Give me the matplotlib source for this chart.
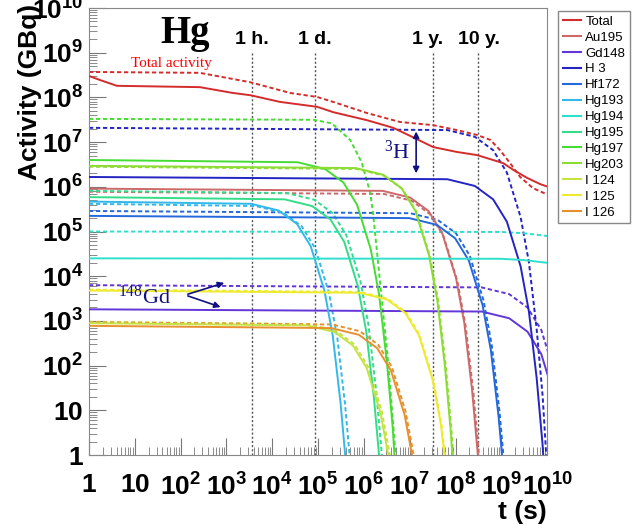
import numpy as np
import matplotlib
matplotlib.use('Agg')
import matplotlib.pyplot as plt
from matplotlib.lines import Line2D
from matplotlib.ticker import FixedLocator, FuncFormatter, NullFormatter

plt.rcParams['font.family'] = ['Liberation Sans', 'DejaVu Sans']
plt.rcParams['mathtext.fontset'] = 'custom'
plt.rcParams['mathtext.rm'] = 'Liberation Serif'
plt.rcParams['mathtext.bf'] = 'Liberation Sans:bold'
plt.rcParams['mathtext.sf'] = 'Liberation Sans'

# curves as (log10 t [s], log10 activity [GBq])
total_solid = [(0.0, 8.48), (0.24, 8.39), (0.61, 8.26), (2.42, 8.23), (3.14, 8.10), (3.52, 8.05),
               (4.17, 7.90), (4.98, 7.79), (5.33, 7.67), (6.07, 7.49), (6.64, 7.32), (7.07, 7.11),
               (7.51, 6.89), (8.03, 6.78), (8.47, 6.71), (8.82, 6.60), (9.04, 6.53), (9.26, 6.38),
               (9.56, 6.20), (9.85, 6.06), (10.02, 6.00)]
total_dash = [(0.0, 8.57), (2.42, 8.55), (3.52, 8.34), (4.39, 8.10), (4.98, 8.01), (5.33, 7.90),
              (6.07, 7.65), (6.79, 7.45), (7.51, 7.38), (8.03, 7.27), (8.47, 7.16), (8.76, 7.05),
              (8.97, 6.82), (9.19, 6.53), (9.41, 6.22), (9.69, 5.97), (10.02, 5.82)]

au195_solid = [(0, 5.96), (6.41, 5.91), (7.01, 5.76), (7.41, 5.46), (7.71, 4.96), (8.01, 3.96),
               (8.19, 2.96), (8.36, 1.46), (8.49, -0.04), (8.61, -2.04)]
au195_dash = [(0, 5.89), (6.44, 5.84), (7.04, 5.69), (7.44, 5.39), (7.74, 4.89), (8.04, 3.89),
              (8.22, 2.89), (8.39, 1.39), (8.52, -0.11), (8.64, -2.11)]

gd148_solid = [(0, 3.26), (8.57, 3.21), (9.17, 3.06), (9.57, 2.76), (9.87, 2.26), (10.17, 1.26)]
gd148_dash = [(0, 3.80), (8.57, 3.75), (9.17, 3.60), (9.57, 3.30), (9.87, 2.80), (10.17, 1.80)]

h3_solid = [(0, 6.22), (7.82, 6.17), (8.42, 6.02), (8.82, 5.72), (9.12, 5.22), (9.42, 4.22),
            (9.60, 3.22), (9.77, 1.72), (9.90, 0.22), (10.02, -1.78)]
h3_dash = [(0, 7.32), (7.82, 7.27), (8.42, 7.12), (8.82, 6.82), (9.12, 6.32), (9.42, 5.32),
           (9.60, 4.32), (9.77, 2.82), (9.90, 1.32), (10.02, -0.68)]

hf172_solid = [(0, 5.35), (6.99, 5.30), (7.59, 5.15), (7.99, 4.85), (8.29, 4.35), (8.59, 3.35),
               (8.77, 2.35), (8.94, 0.85), (9.07, -0.65), (9.19, -2.65)]
hf172_dash = [(0, 5.46), (7.01, 5.41), (7.61, 5.26), (8.01, 4.96), (8.31, 4.46), (8.61, 3.46),
              (8.79, 2.46), (8.96, 0.96), (9.09, -0.54), (9.21, -2.54)]

hg193_solid = [(0, 5.67), (3.54, 5.62), (4.14, 5.47), (4.54, 5.17), (4.84, 4.67), (5.14, 3.67),
               (5.32, 2.67), (5.49, 1.17), (5.62, -0.33), (5.74, -2.33)]
hg193_dash = [(0, 5.62), (3.64, 5.57), (4.24, 5.42), (4.64, 5.12), (4.94, 4.62), (5.24, 3.62),
              (5.42, 2.62), (5.59, 1.12), (5.72, -0.38), (5.84, -2.38)]

hg194_solid = [(0, 4.40), (9.0, 4.39), (9.5, 4.36), (10.0, 4.30)]
hg194_dash = [(0, 5.00), (9.0, 4.99), (9.5, 4.96), (10.0, 4.90)]

hg195_solid = [(0, 5.77), (4.27, 5.72), (4.87, 5.57), (5.27, 5.27), (5.57, 4.77), (5.87, 3.77),
               (6.05, 2.77), (6.22, 1.27), (6.35, -0.23), (6.47, -2.23)]
hg195_dash = [(0, 5.91), (4.32, 5.86), (4.92, 5.71), (5.32, 5.41), (5.62, 4.91), (5.92, 3.91),
              (6.10, 2.91), (6.27, 1.41), (6.40, -0.09), (6.52, -2.09)]

hg197_solid = [(0, 6.60), (4.55, 6.55), (5.15, 6.40), (5.55, 6.10), (5.85, 5.60), (6.15, 4.60),
               (6.33, 3.60), (6.50, 2.10), (6.63, 0.60), (6.75, -1.40)]
hg197_dash = [(0, 7.52), (4.9, 7.50), (5.3, 7.42), (5.70, 7.05), (5.95, 6.55), (6.14, 5.86),
              (6.20, 5.41), (6.31, 4.30), (6.42, 3.18), (6.51, 2.28), (6.62, 0.94), (6.72, -0.40)]

hg203_solid = [(0, 6.47), (5.82, 6.42), (6.42, 6.27), (6.82, 5.97), (7.12, 5.47), (7.42, 4.47),
               (7.60, 3.47), (7.77, 1.97), (7.90, 0.47), (8.02, -1.53)]
hg203_dash = [(0, 6.45), (5.84, 6.40), (6.44, 6.25), (6.84, 5.95), (7.14, 5.45), (7.44, 4.45),
              (7.62, 3.45), (7.79, 1.95), (7.92, 0.45), (8.04, -1.55)]

i124_solid = [(0, 2.95), (4.76, 2.90), (5.36, 2.75), (5.76, 2.45), (6.06, 1.95), (6.36, 0.95),
              (6.54, -0.05), (6.71, -1.55)]
i124_dash = [(0, 2.98), (4.79, 2.93), (5.39, 2.78), (5.79, 2.48), (6.09, 1.98), (6.39, 0.98),
             (6.57, -0.02), (6.74, -1.52)]

i125_solid = [(0, 3.68), (5.90, 3.63), (6.50, 3.48), (6.90, 3.18), (7.20, 2.68), (7.50, 1.68),
              (7.68, 0.68), (7.85, -0.82), (7.98, -2.32)]
i125_dash = [(0, 3.70), (5.91, 3.65), (6.51, 3.50), (6.91, 3.20), (7.21, 2.70), (7.51, 1.70),
             (7.69, 0.70), (7.86, -0.80), (7.99, -2.30)]

i126_solid = [(0, 2.89), (5.29, 2.84), (5.89, 2.69), (6.29, 2.39), (6.59, 1.89), (6.89, 0.89),
              (7.07, -0.11), (7.24, -1.61)]
i126_dash = [(0, 2.97), (5.31, 2.92), (5.91, 2.77), (6.31, 2.47), (6.61, 1.97), (6.91, 0.97),
             (7.09, -0.03), (7.26, -1.53)]

labels = ['Total', 'Au195', 'Gd148', 'H 3', 'Hf172', 'Hg193', 'Hg194', 'Hg195',
          'Hg197', 'Hg203', 'I 124', 'I 125', 'I 126']
colors = ['#d42c2c', '#cc6a6a', '#6236d8', '#2424c4', '#2468dc', '#34b8ea', '#2ee0cc',
          '#34dc8a', '#46dc34', '#8cdc34', '#c4e444', '#eeea30', '#e8902e']
solid = [total_solid, au195_solid, gd148_solid, h3_solid, hf172_solid, hg193_solid, hg194_solid,
         hg195_solid, hg197_solid, hg203_solid, i124_solid, i125_solid, i126_solid]
dashed = [total_dash, au195_dash, gd148_dash, h3_dash, hf172_dash, hg193_dash, hg194_dash,
          hg195_dash, hg197_dash, hg203_dash, i124_dash, i125_dash, i126_dash]

# time marks: 1 hour, 1 day, 1 year, 10 years (s)
mark_t = [3600, 86400, 3.156e7, 3.156e8]
mark_txt = ['1 h.', '1 d.', '1 y.', '10 y.']

fig = plt.figure(figsize=(6.4, 5.25), dpi=100)
ax = fig.add_axes([0.139, 0.1333, 0.716, 0.8514])

for t in mark_t:
    ax.plot([t, t], [1, 1e9], color='#555555', lw=1, ls=(0, (1.5, 1.5)), zorder=1)

for pts, c in zip(dashed, colors):
    arr = np.array(pts)
    ax.plot(10 ** arr[:, 0], 10 ** arr[:, 1], color=c, lw=1.4, ls=(0, (2.2, 1.4)), zorder=2)
for pts, c in zip(solid, colors):
    arr = np.array(pts)
    ax.plot(10 ** arr[:, 0], 10 ** arr[:, 1], color=c, lw=1.4, zorder=3)

ax.set_xscale('log')
ax.set_yscale('log')
ax.set_xlim(1, 1e10)
ax.set_ylim(1, 1e10)

def fmt(v, pos):
    n = int(round(np.log10(v)))
    if n == 0:
        return r'$\mathbf{1}$'
    if n == 1:
        return r'$\mathbf{10}$'
    return r'$\mathbf{10^{%d}}$' % n

for axis in (ax.xaxis, ax.yaxis):
    axis.set_major_locator(FixedLocator([10.0 ** k for k in range(11)]))
    axis.set_minor_locator(FixedLocator([m * 10.0 ** k for k in range(10) for m in range(2, 10)]))
    axis.set_major_formatter(FuncFormatter(fmt))
    axis.set_minor_formatter(NullFormatter())

ax.tick_params(which='both', direction='in', color='#777777', top=False, right=False)
ax.tick_params(which='major', length=12, labelsize=19, pad=4)
ax.tick_params(which='minor', length=6)
ax.tick_params(axis='x', pad=13)
for s in ax.spines.values():
    s.set_color('#888888')

fig.text(0.047, 0.992, 'Activity (GBq)', rotation=90, ha='center', va='top',
         fontsize=19, fontweight='bold')
fig.text(0.855, 0.025, 't (s)', ha='right', va='center', fontsize=19, fontweight='bold')

ax.text(10 ** 2.1, 10 ** 9.42, 'Hg', family='Liberation Serif', fontweight='bold',
        fontsize=28, ha='center', va='center')
ax.text(10 ** 1.8, 10 ** 8.76, 'Total activity', family='Liberation Serif', color='red',
        fontsize=11, ha='center', va='center')
for t, s, dx in zip(mark_t, mark_txt, [0, 0, -0.1, 0.02]):
    ax.text(t * 10 ** dx, 10 ** 9.3, s, ha='center', va='center', fontsize=14, fontweight='bold')

navy = '#101080'
ax.annotate('', xy=(10 ** 7.14, 10 ** 7.30), xytext=(10 ** 7.14, 10 ** 6.24),
            arrowprops=dict(arrowstyle='<|-|>', color=navy, lw=1.2, mutation_scale=9))
ax.text(10 ** 6.72, 10 ** 6.78, r'$\mathrm{^{3}H}$', color=navy, fontsize=16,
        ha='center', va='center')
for tip in [(3.01, 3.87), (2.93, 3.29)]:
    ax.annotate('', xy=(10 ** tip[0], 10 ** tip[1]), xytext=(10 ** 2.10, 10 ** 3.58),
                arrowprops=dict(arrowstyle='-|>', color=navy, lw=1.2, mutation_scale=9))
ax.text(10 ** 1.22, 10 ** 3.53, r'$\mathrm{^{148}Gd}$', color=navy, fontsize=16,
        ha='center', va='center')

handles = [Line2D([], [], color=c, lw=1.5) for c in colors]
leg = fig.legend(handles, labels, loc='upper left', bbox_to_anchor=(0.862, 0.992),
                 fontsize=9.5, handlelength=1.4, handletextpad=0.3, labelspacing=0.28,
                 borderpad=0.35, fancybox=False, framealpha=1, edgecolor='#888888')
leg.get_frame().set_linewidth(1)

fig.savefig('out.png', dpi=100)
